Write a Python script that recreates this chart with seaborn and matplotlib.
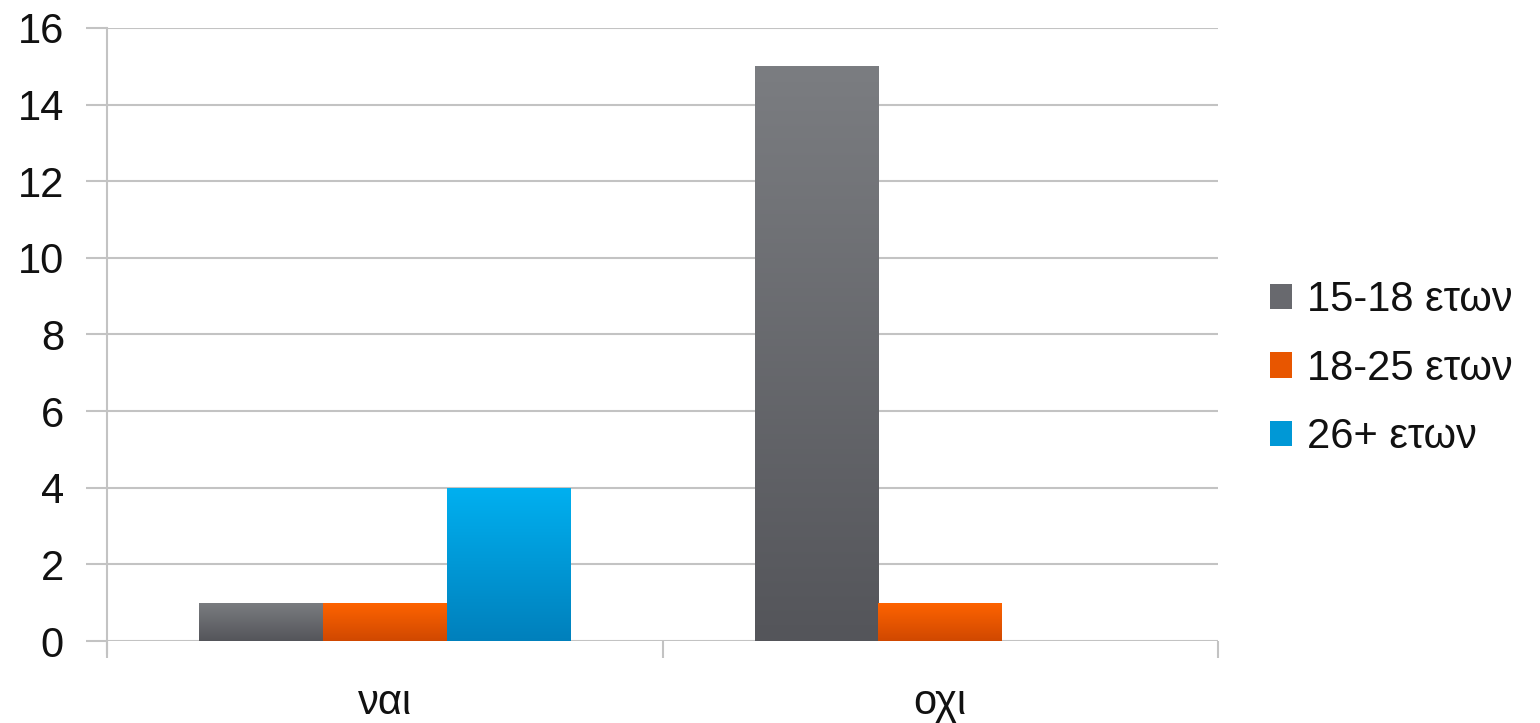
import seaborn as sns
import matplotlib.pyplot as plt
import matplotlib.colors as mcolors
from matplotlib.patches import Patch
import numpy as np
import pandas as pd

categories = ['ναι', 'οχι']
groups = ['15-18 ετων', '18-25 ετων', '26+ ετων']
vals_15_18 = [1, 15]
vals_18_25 = [1, 1]
vals_26 = [4, 0]

# top / bottom colours of each bar gradient
grad = {
    '15-18 ετων': ('#7b7d81', '#54555a'),
    '18-25 ετων': ('#ff6400', '#d04800'),
    '26+ ετων': ('#00b0f0', '#0080bc'),
}

rows = []
for g, vals in zip(groups, [vals_15_18, vals_18_25, vals_26]):
    for c, v in zip(categories, vals):
        rows.append({'cat': c, 'grp': g, 'val': v})
df = pd.DataFrame(rows)

sns.set_style('white')
plt.rcParams['font.family'] = ['Liberation Sans', 'DejaVu Sans']

fig = plt.figure(figsize=(15.4, 7.23), dpi=100)
ax = fig.add_axes([0.0695, 0.1134, 0.7214, 0.848])

pal = {g: mcolors.to_hex(np.mean([mcolors.to_rgb(a), mcolors.to_rgb(b)], axis=0)) for g, (a, b) in grad.items()}
sns.barplot(data=df, x='cat', y='val', hue='grp', order=categories, hue_order=groups,
            palette=pal, width=0.668, saturation=1, ax=ax, legend=False, linewidth=0)

# vertical gradient inside every bar
for cont, g in zip(ax.containers, groups):
    top, bot = grad[g]
    cmap = mcolors.LinearSegmentedColormap.from_list(g, [bot, top])
    for p in cont.patches:
        h = p.get_height()
        if h <= 0:
            continue
        x0 = p.get_x()
        w = p.get_width()
        im = ax.imshow(np.linspace(0, 1, 256).reshape(-1, 1), cmap=cmap, origin='lower',
                       extent=[x0, x0 + w, 0, h], aspect='auto', zorder=p.get_zorder() + 0.1)
        im.set_clip_path(p)

ax.set_xlim(-0.5, 1.5)
ax.set_ylim(0, 16)
ax.set_yticks(range(0, 17, 2))
ax.set_xticks([-0.5, 0.5, 1.5], minor=True)
ax.yaxis.grid(True, color='#c3c3c3', linewidth=1.5)
ax.set_axisbelow(True)
for s in ['top', 'right', 'bottom']:
    ax.spines[s].set_visible(False)
ax.spines['left'].set_color('#c3c3c3')
ax.spines['left'].set_linewidth(1.5)
ax.spines['left'].set_bounds(-0.3, 16)
ax.set_ylim(0, 16)

ax.tick_params(axis='y', which='major', length=15, width=1.5, color='#c3c3c3',
               labelsize=30, pad=16, left=True, labelcolor='#111111')
ax.tick_params(axis='x', which='major', length=0, labelsize=30, pad=30, labelcolor='#111111')
ax.tick_params(axis='x', which='minor', length=12, width=1.5, color='#c3c3c3', bottom=True)
ax.set_xlabel('')
ax.set_ylabel('')

handles = [Patch(facecolor=pal[g], edgecolor='none') for g in groups]
fig.legend(handles, groups, loc='center left', bbox_to_anchor=(0.800, 0.49), frameon=False,
           fontsize=30, handlelength=0.55, handleheight=0.55, handletextpad=0.35,
           labelspacing=0.68, labelcolor='#111111')

fig.savefig('out.png', dpi=100)
